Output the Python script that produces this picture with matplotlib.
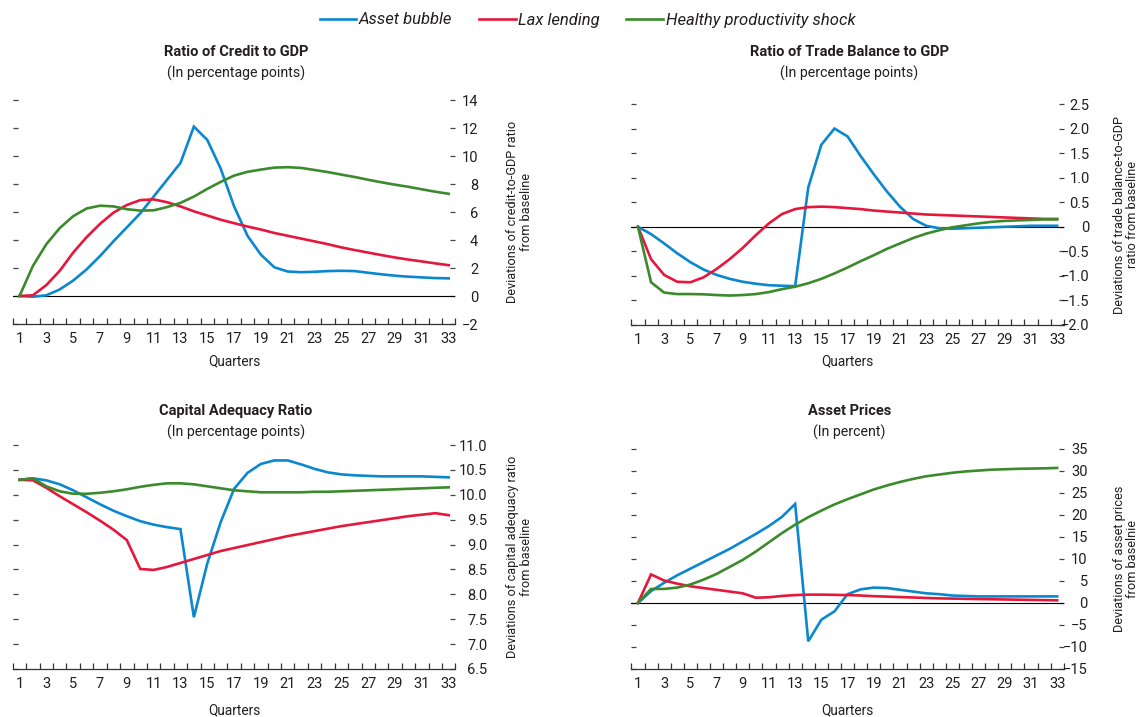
import matplotlib
matplotlib.use("Agg")
import matplotlib.pyplot as plt
from matplotlib.ticker import FixedLocator, FuncFormatter
from matplotlib.lines import Line2D

plt.rcParams['font.family'] = ['Roboto', 'DejaVu Sans']

quarters = list(range(1, 34))
series_names = ["Asset bubble", "Lax lending", "Healthy productivity shock"]
colors = ["#0a87cf", "#e6173d", "#3b8a2c"]

credit_bubble = [0, -0.05, 0.05, 0.47, 1.1, 1.9, 2.85, 3.9, 4.9, 5.9, 7.1, 8.3, 9.5, 12.1, 11.15, 9.1, 6.4,
                 4.3, 2.95, 2.05, 1.75, 1.7, 1.73, 1.78, 1.8, 1.78, 1.66, 1.55, 1.45, 1.38, 1.33, 1.28, 1.26]
credit_lax = [0, 0.05, 0.78, 1.8, 3.1, 4.2, 5.15, 5.95, 6.5, 6.85, 6.9, 6.7, 6.4, 6.05, 5.75, 5.45, 5.2,
              4.96, 4.75, 4.5, 4.3, 4.1, 3.9, 3.7, 3.47, 3.28, 3.1, 2.92, 2.75, 2.6, 2.47, 2.33, 2.2]
credit_healthy = [0, 2.15, 3.7, 4.85, 5.7, 6.25, 6.45, 6.4, 6.2, 6.1, 6.12, 6.35, 6.65, 7.1, 7.65, 8.15, 8.6,
                  8.87, 9.03, 9.17, 9.2, 9.15, 9.0, 8.85, 8.67, 8.5, 8.3, 8.12, 7.95, 7.8, 7.62, 7.45, 7.3]

trade_bubble = [0, -0.15, -0.34, -0.54, -0.72, -0.87, -0.98, -1.06, -1.12, -1.16, -1.19, -1.2, -1.21, 0.8,
                1.67, 2.0, 1.84, 1.44, 1.07, 0.72, 0.41, 0.16, 0.02, -0.03, -0.04, -0.03, -0.02, -0.01,
                0.0, 0.01, 0.02, 0.02, 0.02]
trade_lax = [0, -0.66, -0.98, -1.12, -1.13, -1.03, -0.86, -0.66, -0.43, -0.17, 0.07, 0.26, 0.36, 0.4, 0.41,
             0.4, 0.38, 0.36, 0.33, 0.31, 0.29, 0.27, 0.25, 0.24, 0.23, 0.22, 0.21, 0.2, 0.19, 0.18, 0.17,
             0.16, 0.16]
trade_healthy = [0, -1.13, -1.34, -1.37, -1.37, -1.375, -1.39, -1.4, -1.39, -1.37, -1.33, -1.27, -1.22,
                 -1.15, -1.06, -0.95, -0.83, -0.7, -0.58, -0.45, -0.34, -0.23, -0.14, -0.07, -0.01, 0.03,
                 0.07, 0.1, 0.12, 0.13, 0.14, 0.15, 0.15]

car_bubble = [10.3, 10.33, 10.29, 10.21, 10.09, 9.95, 9.81, 9.68, 9.57, 9.47, 9.4, 9.35, 9.31, 7.54, 8.62,
              9.45, 10.12, 10.44, 10.62, 10.69, 10.69, 10.61, 10.52, 10.45, 10.41, 10.39, 10.38, 10.37,
              10.37, 10.37, 10.37, 10.36, 10.35]
car_lax = [10.3, 10.29, 10.14, 9.97, 9.81, 9.65, 9.48, 9.3, 9.09, 8.51, 8.49, 8.55, 8.63, 8.71, 8.79, 8.87,
           8.93, 8.99, 9.05, 9.11, 9.17, 9.22, 9.27, 9.32, 9.37, 9.41, 9.45, 9.49, 9.53, 9.57, 9.6, 9.63, 9.59]
car_healthy = [10.3, 10.33, 10.17, 10.07, 10.02, 10.02, 10.04, 10.07, 10.11, 10.16, 10.2, 10.23, 10.23,
               10.21, 10.17, 10.13, 10.09, 10.07, 10.05, 10.05, 10.05, 10.05, 10.06, 10.06, 10.07, 10.08,
               10.09, 10.1, 10.11, 10.12, 10.13, 10.14, 10.15]

asset_bubble = [0, 2.7, 4.6, 6.3, 7.8, 9.3, 10.8, 12.3, 14.0, 15.7, 17.5, 19.6, 22.5, -8.7, -3.8, -1.9, 2.0,
                3.1, 3.5, 3.4, 3.0, 2.6, 2.2, 2.0, 1.7, 1.6, 1.5, 1.5, 1.5, 1.5, 1.5, 1.5, 1.5]
asset_lax = [0, 6.5, 5.1, 4.4, 3.8, 3.4, 3.0, 2.6, 2.2, 1.2, 1.3, 1.6, 1.8, 1.9, 1.9, 1.85, 1.8, 1.7, 1.55,
             1.45, 1.35, 1.25, 1.15, 1.05, 1.0, 0.95, 0.9, 0.85, 0.8, 0.75, 0.7, 0.65, 0.6]
asset_healthy = [0, 3.2, 3.2, 3.5, 4.2, 5.3, 6.6, 8.2, 9.8, 11.7, 13.8, 15.9, 17.8, 19.5, 21.0, 22.4, 23.6,
                 24.7, 25.8, 26.7, 27.5, 28.2, 28.8, 29.2, 29.6, 29.9, 30.1, 30.3, 30.4, 30.5, 30.55, 30.6,
                 30.7]

titles = ["Ratio of Credit to GDP", "Ratio of Trade Balance to GDP", "Capital Adequacy Ratio", "Asset Prices"]
subtitles = ["(In percentage points)", "(In percentage points)", "(In percentage points)", "(In percent)"]
ylabels = ["Deviations of credit-to-GDP ratio\nfrom baseline",
           "Deviations of trade balance-to-GDP\nratio from baseline",
           "Deviations of capital adequacy ratio\nfrom baseline",
           "Deviations of asset prices\nfrom baselnie"]
credit_ticks = [-2, 0, 2, 4, 6, 8, 10, 12, 14]
trade_ticks = [-2.0, -1.5, -1.0, -0.5, 0, 0.5, 1.0, 1.5, 2.0, 2.5]
car_ticks = [6.5, 7.0, 7.5, 8.0, 8.5, 9.0, 9.5, 10.0, 10.5, 11.0]
asset_ticks = [-15, -10, -5, 0, 5, 10, 15, 20, 25, 30, 35]
x_labels = [str(q) for q in range(1, 34, 2)]

W, H = 1143, 717
fig = plt.figure(figsize=(W / 100, H / 100), dpi=100)
TXT = "#231f20"


def px_axes(l, r, t, b):
    return fig.add_axes([l / W, 1 - b / H, (r - l) / W, (b - t) / H])


def fmt_int(v, _):
    return f"{v:.0f}".replace("-", "\u2212")


def fmt_dec0(v, _):
    if abs(v) < 1e-9:
        return "0"
    return f"{v:.1f}".replace("-", "\u2212")


def fmt_dec(v, _):
    return f"{v:.1f}".replace("-", "\u2212")


panels = [
    dict(box=(12.8, 455.4, 100, 324), data=(credit_bubble, credit_lax, credit_healthy), ticks=credit_ticks,
         fmt=fmt_int, zero=True, lblx=519.5, pad=16.5),
    dict(box=(631.4, 1063.7, 104, 325), data=(trade_bubble, trade_lax, trade_healthy), ticks=trade_ticks,
         fmt=fmt_dec0, zero=True, lblx=1126, pad=18.7),
    dict(box=(12.8, 455.4, 445, 669), data=(car_bubble, car_lax, car_healthy), ticks=car_ticks,
         fmt=fmt_dec, zero=False, lblx=519.5, pad=23.0),
    dict(box=(631.4, 1063.7, 449, 669), data=(asset_bubble, asset_lax, asset_healthy), ticks=asset_ticks,
         fmt=fmt_int, zero=True, lblx=1126, pad=17.3),
]

title_y = [52, 52, 411, 411]
sub_y = [73, 73, 432, 432]
q_y = [361, 361, 710, 710]

for i, p in enumerate(panels):
    l, r, t, b = p["box"]
    ax = px_axes(l, r, t, b)
    for vals, c in zip(p["data"], colors):
        ax.plot(quarters, vals, color=c, lw=1.9, solid_joinstyle="miter", zorder=3)
    if p["zero"]:
        ax.axhline(0, color="black", lw=0.8, zorder=2)
    ax.set_xlim(0.5, 33.5)
    ax.set_ylim(p["ticks"][0], p["ticks"][-1])
    for s in ("top", "left", "right"):
        ax.spines[s].set_visible(False)
    ax.spines["bottom"].set_color("#333333")
    ax.spines["bottom"].set_linewidth(0.9)
    # x axis
    ax.xaxis.set_major_locator(FixedLocator(list(range(1, 34, 2))))
    ax.set_xticklabels(x_labels)
    ax.xaxis.set_minor_locator(FixedLocator([k + 0.5 for k in range(0, 34)]))
    ax.tick_params(axis="x", which="major", length=0, pad=6, labelsize=10.5, labelcolor=TXT)
    ax.tick_params(axis="x", which="minor", direction="in", length=4, width=0.9, color="#333333")
    # y axis
    ax.yaxis.set_major_locator(FixedLocator(p["ticks"]))
    ax.yaxis.set_major_formatter(FuncFormatter(p["fmt"]))
    ax.tick_params(axis="y", which="major", left=True, right=True, labelleft=False, labelright=True,
                   direction="in", length=3.5, width=0.9, color="#444444", labelsize=10.5,
                   labelcolor=TXT, pad=p["pad"])
    for lab in ax.get_yticklabels():
        lab.set_horizontalalignment("right")
    ax.text((p["lblx"] - l) / (r - l), 0.5, ylabels[i], transform=ax.transAxes, rotation=90,
            ha="center", va="center", multialignment="center", fontsize=9.2, color=TXT,
            linespacing=1.05)
    cx = (l + r) / 2 / W
    fig.text(cx + 2 / W, 1 - title_y[i] / H, titles[i], ha="center", va="center", fontsize=10.5,
             fontweight="bold", color=TXT)
    fig.text(cx + 2 / W, 1 - sub_y[i] / H, subtitles[i], ha="center", va="center", fontsize=10.2,
             color=TXT)
    fig.text(cx, 1 - q_y[i] / H, "Quarters", ha="center", va="center", fontsize=9.8, color=TXT)

handles = [Line2D([], [], color=c, lw=1.9) for c in colors]
leg = fig.legend(handles, series_names, loc="center", bbox_to_anchor=(0.514, 1 - 20 / H), ncol=3,
                 frameon=False, handlelength=2.2, handletextpad=0.15, columnspacing=1.6,
                 prop=dict(size=12, style="italic"))
for t in leg.get_texts():
    t.set_color(TXT)

fig.savefig("out.png", dpi=100)
